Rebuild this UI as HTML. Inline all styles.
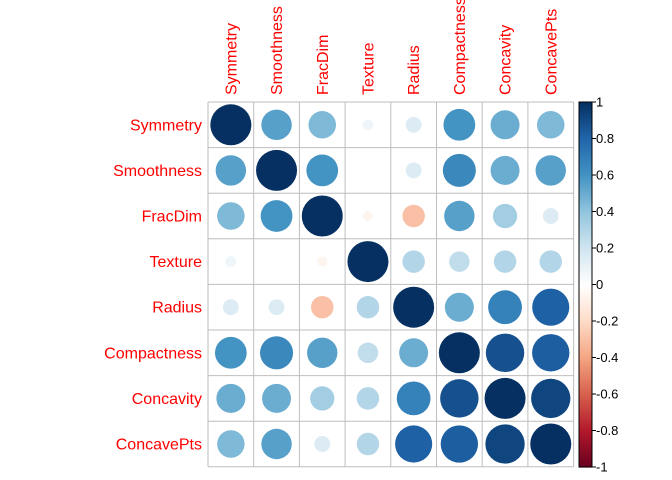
<!DOCTYPE html>
<html><head><meta charset="utf-8"><style>
body{margin:0;background:#fff;}
svg{display:block;font-family:"Liberation Sans",sans-serif;}
</style></head><body>
<svg id="chart" width="672" height="480" viewBox="0 0 672 480"></svg>
<script>
const variables = ["Symmetry","Smoothness","FracDim","Texture","Radius","Compactness","Concavity","ConcavePts"];
const corrRow0 = [1,0.55,0.45,0.07,0.15,0.6,0.5,0.45];
const corrRow1 = [0.55,1,0.6,0.01,0.15,0.65,0.5,0.55];
const corrRow2 = [0.45,0.6,1,-0.06,-0.3,0.55,0.35,0.15];
const corrRow3 = [0.07,0.01,-0.06,1,0.3,0.25,0.3,0.3];
const corrRow4 = [0.15,0.15,-0.3,0.3,1,0.5,0.68,0.82];
const corrRow5 = [0.6,0.65,0.55,0.25,0.5,1,0.88,0.83];
const corrRow6 = [0.5,0.5,0.35,0.3,0.68,0.88,1,0.92];
const corrRow7 = [0.45,0.55,0.15,0.3,0.82,0.83,0.92,1];
const colorbarTicks = [-1,-0.8,-0.6,-0.4,-0.2,0,0.2,0.4,0.6,0.8,1];
const matrix=[corrRow0,corrRow1,corrRow2,corrRow3,corrRow4,corrRow5,corrRow6,corrRow7];

const NS="http://www.w3.org/2000/svg", svg=document.getElementById('chart');
const X0=208, Y0=102, CW=45.7, CH=45.6, R=20.5;
const pal=["#67001F","#B2182B","#D6604D","#F4A582","#FDDBC7","#FFFFFF","#D1E5F0","#92C5DE","#4393C3","#2166AC","#053061"];
function hex(h){return [1,3,5].map(i=>parseInt(h.substr(i,2),16));}
function color(v){const t=(Math.max(-1,Math.min(1,v))+1)/2*10;const i=Math.min(9,Math.floor(t));const f=t-i;
 const a=hex(pal[i]),b=hex(pal[i+1]);return 'rgb('+a.map((x,k)=>Math.round(x+(b[k]-x)*f)).join(',')+')';}
function el(tag,attrs){const e=document.createElementNS(NS,tag);for(const k in attrs)e.setAttribute(k,attrs[k]);svg.appendChild(e);return e;}
const xS=j=>X0+CW*j+CW/2, yS=i=>Y0+CH*i+CH/2;
const n=variables.length;
// grid
for(let k=0;k<=n;k++){
 let l=el('line',{x1:X0+CW*k,x2:X0+CW*k,y1:Y0,y2:Y0+CH*n,stroke:'#bebebe','stroke-width':1});
 
 
 l=el('line',{x1:X0,x2:X0+CW*n,y1:Y0+CH*k,y2:Y0+CH*k,stroke:'#bebebe','stroke-width':1});
 
 
}
for(let i=0;i<n;i++){
 let t=el('text',{x:202,y:yS(i)+5.5,'text-anchor':'end','font-size':16,fill:'#ff0000'});
 t.textContent=variables[i];
 
 
 t=el('text',{transform:`translate(${xS(i)+5.5},95) rotate(-90)`,'font-size':16,fill:'#ff0000'});
 t.textContent=variables[i];
 
 
 for(let j=0;j<n;j++){
  const v=matrix[i][j];
  const c=el('circle',{cx:xS(j),cy:yS(i),r:R*Math.sqrt(Math.abs(v)),fill:color(v)});
  
  
 }
}
// colorbar
const CBX=579,CBW=13,CBT=102,CBB=467;
const cbY=v=>CBB-(v+1)/2*(CBB-CBT);
for(let s=0;s<200;s++){
 const v=-1+(s+0.5)/100;
 const r=el('rect',{x:CBX,y:cbY(-1+(s+1)/100),width:CBW,height:(CBB-CBT)/200+0.6,fill:color(v)});
 
 
}
let bx=el('rect',{x:CBX,y:CBT,width:CBW,height:CBB-CBT,fill:'none',stroke:'#000','stroke-width':1});


colorbarTicks.forEach(v=>{
 const y=cbY(v);
 const l=el('line',{x1:CBX+CBW,x2:CBX+CBW+4,y1:y,y2:y,stroke:'#000'});
 
 
 const t=el('text',{x:CBX+CBW+4,y:y+4.5,'font-size':13,fill:'#000'});
 t.textContent=String(v);
 
 
});
</script>
</body></html>
